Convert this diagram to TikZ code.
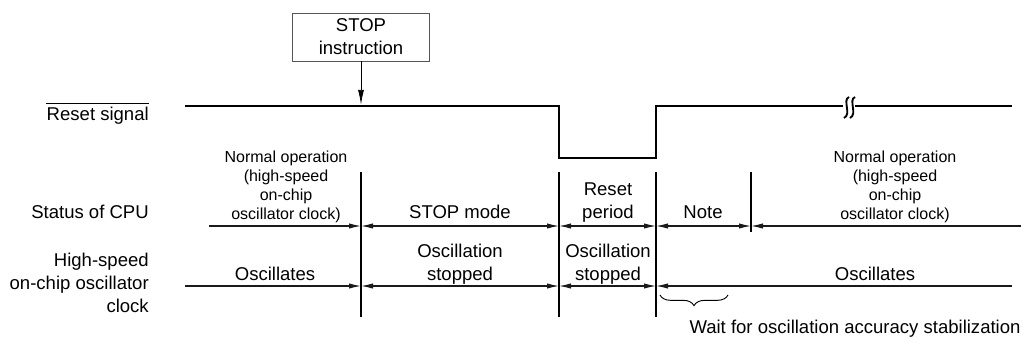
\documentclass[tikz,border=0pt]{standalone}
\usepackage{fontspec}
\setmainfont{Liberation Sans}
\usetikzlibrary{calc, arrows.meta, decorations.pathreplacing}
\definecolor{lineGray}{HTML}{1A1A1A}
\definecolor{boxGray}{HTML}{555555}

\tikzset{
    bigtxt/.style={font=\fontsize{13.9}{17.25}\selectfont, align=center, inner sep=0pt},
    smalltxt/.style={font=\fontsize{12}{14.25}\selectfont, align=center, inner sep=0pt},
    timeline/.style={line width=0.8pt, lineGray},
    marker/.style={line width=0.8pt, black},
    resetline/.style={line width=2.2pt, black},
    >={Latex[length=9pt,width=4pt]},
}

\begin{document}
\begin{tikzpicture}[x=0.75pt, y=-0.75pt]
    \useasboundingbox (0,0) rectangle (1022,347);

    % time marks
    \coordinate (tA) at (185,0);
    \coordinate (tB) at (209,0);
    \coordinate (tS) at (361,0);
    \coordinate (tR) at (559,0);
    \coordinate (tE) at (656,0);
    \coordinate (tN) at (751,0);
    \coordinate (tZ) at (1012,0);
    \coordinate (tW) at (1021,0);
    % rows
    \coordinate (yHi) at (0,106);
    \coordinate (yLo) at (0,158);
    \coordinate (yTop) at (0,172);
    \coordinate (yNote) at (0,232);
    \coordinate (yCpu) at (0,226);
    \coordinate (yClk) at (0,286);
    \coordinate (yBot) at (0,317);

    % reset signal with break
    \coordinate (brkL) at (843,106);
    \coordinate (brkR) at (855,106);
    \draw[resetline] (tA |- yHi) -- (tR |- yHi) -- (tR |- yLo) -- (tE |- yLo)
        -- (tE |- yHi) -- (brkL);
    \draw[resetline] (brkR) -- (tZ |- yHi);
    \foreach \dx in {0,6}
        \draw[line width=1.4pt] (849+\dx,97) .. controls (842+\dx,100) and (852+\dx,114) .. (844+\dx,118);

    % STOP instruction
    \node[draw=boxGray, line width=0.6pt, bigtxt, minimum width=103pt, minimum height=36pt]
        (stop) at (361,37) {STOP\\instruction};
    \draw[->, line width=0.6pt, >={Latex[length=11pt,width=4.5pt]}, shorten >=1.1pt]
        (stop.south) -- (stop.south |- yHi);

    % vertical marks
    \foreach \t in {tS,tR,tE}
        \draw[marker] (\t |- yTop) -- (\t |- yBot);
    \draw[marker] (tN |- yTop) -- (tN |- yNote);

    % CPU status row
    \draw[timeline, ->] (tB |- yCpu) -- (tS |- yCpu);
    \draw[timeline, <->] (tS |- yCpu) -- (tR |- yCpu);
    \draw[timeline, <->] (tR |- yCpu) -- (tE |- yCpu);
    \draw[timeline, <->] (tE |- yCpu) -- (tN |- yCpu);
    \draw[timeline, <-] (tN |- yCpu) -- (tW |- yCpu);

    % clock row
    \draw[timeline, ->] (tA |- yClk) -- (tS |- yClk);
    \draw[timeline, <->] (tS |- yClk) -- (tR |- yClk);
    \draw[timeline, <->] (tR |- yClk) -- (tE |- yClk);
    \draw[timeline, <-] (tE |- yClk) -- (tZ |- yClk);

    % row labels
    \node[bigtxt, anchor=base east] (rstLabel) at (149,120) {Reset signal};
    \draw[line width=0.6pt] ([yshift=2.5pt]rstLabel.north west) -- ([yshift=2.5pt]rstLabel.north east);
    \node[bigtxt, anchor=base east] (cpuLabel) at (149,218) {Status of CPU};
    \node[bigtxt, align=right, anchor=east] (clkLabel) at (149,283)
        {High-speed\\on-chip oscillator\\clock};

    % CPU status texts
    \node[smalltxt] (normalA) at (286,187)
        {Normal operation\\(high-speed\\on-chip\\oscillator clock)};
    \node[bigtxt, anchor=base] (stopMode) at (460,218) {STOP mode};
    \node[bigtxt] (resetPer) at (608,203) {Reset\\period};
    \node[bigtxt, anchor=base] (noteTxt) at (703,218) {Note};
    \node[smalltxt] (normalB) at (895,187)
        {Normal operation\\(high-speed\\on-chip\\oscillator clock)};

    % clock texts
    \node[bigtxt, anchor=base] (oscA) at (275,280) {Oscillates};
    \node[bigtxt] (oscStopA) at (460,264) {Oscillation\\stopped};
    \node[bigtxt] (oscStopB) at (608,264) {Oscillation\\stopped};
    \node[bigtxt, anchor=base] (oscB) at (875,280) {Oscillates};

    % stabilization wait
    \coordinate (braceL) at (660,295);
    \coordinate (braceR) at (728,295);
    \draw[decorate, decoration={brace, amplitude=8pt}, line width=0.7pt] (braceR) -- (braceL);
    \node[bigtxt, anchor=base] (waitTxt) at (855,333) {Wait for oscillation accuracy stabilization};
\end{tikzpicture}
\end{document}
